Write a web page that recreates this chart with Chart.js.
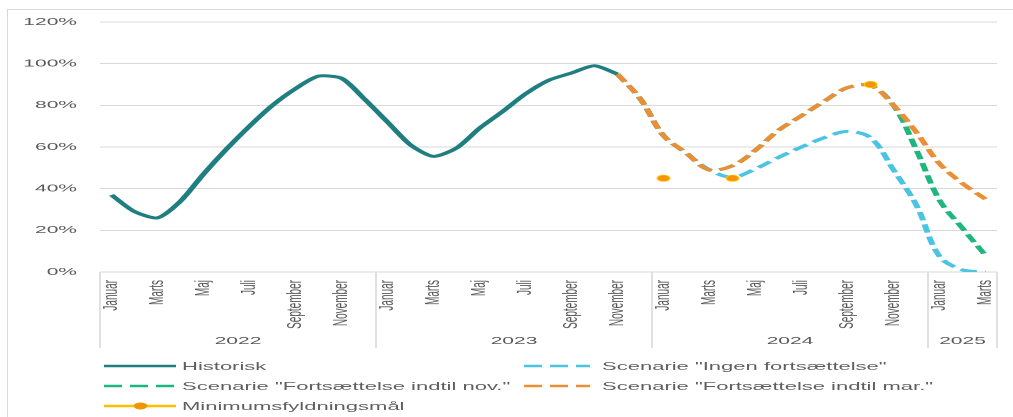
<!DOCTYPE html>
<html>
<head>
<meta charset="utf-8">
<title>Fyldningsgrad</title>
<script src="https://cdn.jsdelivr.net/npm/chart.js@4.4.1/dist/chart.umd.min.js"></script>
<style>
  html, body { margin: 0; padding: 0; background: #fff; }
  body { width: 1013px; height: 417px; overflow: hidden; position: relative;
         font-family: "Liberation Sans", Arial, sans-serif; }
  #frame { position: absolute; left: 7px; top: 9px; width: 1100px; height: 500px;
           border: 1px solid #d9d9d9; box-sizing: border-box; }
  /* the chart is laid out at half width and widened 2x */
  #stage { position: absolute; left: 0; top: 0; width: 506.5px; height: 417px;
           transform: scaleX(2); transform-origin: 0 0; }
  #chart { position: absolute; left: 0; top: 0; }
  .key { position: absolute; height: 16px; display: flex; align-items: center;
         font-size: 11px; color: #5f5f5f; white-space: nowrap; }
  .key svg { display: block; }
</style>
</head>
<body>
<div id="frame"></div>
<div id="stage">
  <canvas id="chart" width="507" height="352"></canvas>
  <div id="legend"></div>
</div>
<script>
// months and years on the category axis
var monthNames = ['Januar', 'Februar', 'Marts', 'April', 'Maj', 'Juni', 'Juli',
                  'August', 'September', 'Oktober', 'November', 'December'];
var years = ['2022', '2023', '2024', '2025'];
var monthsPerYear = [12, 12, 12, 3];
var yTicks = [0, 20, 40, 60, 80, 100, 120];

// fill level in %, Jan 2022 .. Mar 2025 (39 months)
var historisk = [
  37, 29, 26, 34, 47, 59, 70, 80, 88, 94, 93, 83,
  72, 61, 55.5, 59.5, 69, 77, 85.5, 92, 95.5, 99, 95, null,
  null, null, null, null, null, null, null, null, null, null, null, null,
  null, null, null
];
var ingenFortsaettelse = [
  null, null, null, null, null, null, null, null, null, null, null, null,
  null, null, null, null, null, null, null, null, null, null, 95, 83,
  65.5, 57, 49, 45.5, 49.5, 55, 60, 64.5, 67.5, 64.5, 49, 32,
  7.5, 1, 0
];
var indtilNov = [
  null, null, null, null, null, null, null, null, null, null, null, null,
  null, null, null, null, null, null, null, null, null, null, 95, 83,
  65.5, 57, 49, 51, 58.5, 68, 75, 82, 88.5, 89.5, 80, 58.5,
  34.5, 21, 8
];
var indtilMar = [
  null, null, null, null, null, null, null, null, null, null, null, null,
  null, null, null, null, null, null, null, null, null, null, 95, 83,
  65.5, 57, 49, 51, 58.5, 68, 75, 82, 88.5, 89.5, 80, 67,
  52, 42.5, 35
];
var minimumsmaal = [
  null, null, null, null, null, null, null, null, null, null, null, null,
  null, null, null, null, null, null, null, null, null, null, null, null,
  45, null, null, 45, null, null, null, null, null, 90, null, null,
  null, null, null
];

var labels = [];
years.forEach(function (y, i) {
  for (var m = 0; m < monthsPerYear[i]; m++) labels.push(monthNames[m]);
});

var grey = '#595959';
var dash = [8.5, 4];
var colors = {
  historisk: '#1f7e80',
  ingen: '#4ac4e2',
  nov: '#1fb67e',
  mar: '#eb8e36',
  minLine: '#ffbf00',
  minDot: '#f39407'
};

Chart.defaults.font.family = '"Liberation Sans", Arial, sans-serif';
Chart.defaults.color = grey;

function lineSet(label, data, color, dashed, order, tension) {
  return {
    label: label,
    data: data,
    borderColor: color,
    backgroundColor: color,
    borderWidth: 3,
    borderDash: dashed ? dash : [],
    pointRadius: 0,
    tension: tension,
    spanGaps: false,
    order: order
  };
}

// year boxes under the month labels
var yearBands = {
  id: 'yearBands',
  afterDraw: function (chart) {
    var x = chart.scales.x;
    var ctx = chart.ctx;
    var step = x.getPixelForValue(1) - x.getPixelForValue(0);
    var idx = 0;
    var edges = [x.getPixelForValue(0) - step / 2];
    monthsPerYear.forEach(function (n) {
      idx += n;
      edges.push(x.getPixelForValue(idx - 1) + step / 2);
    });
    ctx.save();
    ctx.strokeStyle = '#d9d9d9';
    ctx.lineWidth = 0.8;
    edges.forEach(function (e) {
      ctx.beginPath();
      ctx.moveTo(e, x.top);
      ctx.lineTo(e, x.bottom);
      ctx.stroke();
    });
    ctx.fillStyle = grey;
    ctx.font = '10.5px "Liberation Sans", Arial, sans-serif';
    ctx.textAlign = 'center';
    ctx.textBaseline = 'middle';
    years.forEach(function (y, i) {
      ctx.fillText(y, (edges[i] + edges[i + 1]) / 2, x.bottom - 7);
    });
    ctx.restore();
  }
};

var datasets = [
  lineSet('Historisk', historisk, colors.historisk, false, 0, 0.25),
  lineSet('Scenarie "Ingen fortsættelse"', ingenFortsaettelse, colors.ingen, true, 3, 0.35),
  lineSet('Scenarie "Fortsættelse indtil nov."', indtilNov, colors.nov, true, 2, 0.35),
  lineSet('Scenarie "Fortsættelse indtil mar."', indtilMar, colors.mar, true, 1, 0.35),
  {
    label: 'Minimumsfyldningsmål',
    data: minimumsmaal,
    showLine: false,
    borderColor: colors.minLine,
    backgroundColor: colors.minDot,
    pointRadius: 3.1,
    pointBorderWidth: 0.8,
    pointBorderColor: colors.minLine,
    pointBackgroundColor: colors.minDot,
    order: -1
  }
];

var chart = new Chart(document.getElementById('chart'), {
  type: 'line',
  data: { labels: labels, datasets: datasets },
  plugins: [yearBands],
  options: {
    responsive: false,
    animation: false,
    devicePixelRatio: 2,
    layout: { padding: { top: 22, bottom: 4, left: 0, right: 8.5 } },
    plugins: { legend: { display: false }, tooltip: { enabled: false } },
    scales: {
      x: {
        offset: true,
        grid: { display: false, drawTicks: false },
        border: { display: false },
        ticks: {
          autoSkip: false,
          minRotation: 90,
          maxRotation: 90,
          padding: 8,
          color: grey,
          font: { size: 10 },
          callback: function (v, i) { return i % 2 === 0 ? labels[i] : ''; }
        },
        afterFit: function (s) {
          s.height = 76;
          s.paddingLeft = 0;
          s.paddingRight = 0;
        }
      },
      y: {
        min: 0,
        max: 120,
        afterBuildTicks: function (s) {
          s.ticks = yTicks.map(function (v) { return { value: v }; });
        },
        grid: { color: '#d9d9d9', lineWidth: 1, drawTicks: false },
        border: { display: false },
        ticks: {
          padding: 11.5,
          color: grey,
          font: { size: 10.5 },
          callback: function (v) { return v + '%'; }
        },
        afterFit: function (s) {
          s.width = 50;
          s.paddingTop = 0;
          s.paddingBottom = 0;
        }
      }
    }
  }
});

// legend in two columns
var legendSlots = [
  { ds: 0, col: 0, row: 0 },
  { ds: 1, col: 1, row: 0 },
  { ds: 2, col: 0, row: 1 },
  { ds: 3, col: 1, row: 1 },
  { ds: 4, col: 0, row: 2 }
];
var colX = [51.5, 261.5];
var swatchW = [36.5, 33.5];
var textGap = [3, 6];
var rowY = [366, 386, 406];

var legend = document.getElementById('legend');
legendSlots.forEach(function (slot) {
  var ds = datasets[slot.ds];
  var w = swatchW[slot.col];
  var svg;
  if (ds.showLine === false) {
    svg = '<svg width="' + w + '" height="10"><line x1="0" y1="5" x2="' + w +
      '" y2="5" stroke="' + colors.minLine + '" stroke-width="2.5"/>' +
      '<circle cx="' + (w / 2) + '" cy="5" r="3.4" fill="' + colors.minDot + '"/></svg>';
  } else {
    svg = '<svg width="' + w + '" height="10"><line x1="0" y1="5" x2="' + w +
      '" y2="5" stroke="' + ds.borderColor + '" stroke-width="2.5"' +
      (ds.borderDash.length ? ' stroke-dasharray="9 4"' : '') +
      '/></svg>';
  }
  var el = document.createElement('div');
  el.className = 'key';
  el.style.left = colX[slot.col] + 'px';
  el.style.top = (rowY[slot.row] - 8) + 'px';
  el.innerHTML = svg + '<span style="margin-left:' + textGap[slot.col] + 'px">' +
    ds.label.replace(/"/g, '&quot;') + '</span>';
  legend.appendChild(el);
});
</script>
</body>
</html>
